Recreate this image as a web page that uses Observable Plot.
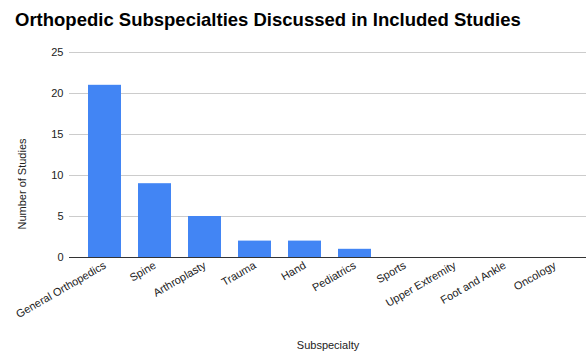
<!DOCTYPE html>
<html>
<head>
<meta charset="utf-8">
<script src="https://cdn.jsdelivr.net/npm/d3@7"></script>
<script src="https://cdn.jsdelivr.net/npm/@observablehq/plot@0.6"></script>
<style>
  html, body { margin: 0; padding: 0; background: #fff; }
  #wrap { position: relative; width: 586px; height: 354px; font-family: Arial, "Liberation Sans", sans-serif; }
  #title { position: absolute; left: 15px; top: 12px; font-size: 18.5px; line-height: 16px; font-weight: bold; color: #000; white-space: nowrap; z-index: 2; }
  #chart { position: absolute; left: 0; top: 0; }
</style>
</head>
<body>
<div id="wrap">
  <div id="title">Orthopedic Subspecialties Discussed in Included Studies</div>
  <div id="chart"></div>
</div>
<script>
const categories = ["General Orthopedics", "Spine", "Arthroplasty", "Trauma", "Hand", "Pediatrics", "Sports", "Upper Extremity", "Foot and Ankle", "Oncology"];
const studies = [21, 9, 5, 2, 2, 1, 0, 0, 0, 0];
const yTicks = [0, 5, 10, 15, 20, 25];
const yLabel = "Number of Studies";
const xLabel = "Subspecialty";

const data = categories.map((c, i) => ({category: c, value: studies[i]}));

const chart = Plot.plot({
  width: 586,
  height: 354,
  marginLeft: 69,
  marginRight: 0,
  marginTop: 52,
  marginBottom: 97,
  style: {fontFamily: "Arial, 'Liberation Sans', sans-serif", fontSize: "11px", color: "#222", background: "transparent"},
  x: {domain: categories, paddingInner: 0.348, paddingOuter: 0.344, align: 0.544, label: null},
  y: {domain: [0, 25], label: null},
  marks: [
    Plot.gridY(yTicks, {stroke: "#cccccc", strokeOpacity: 1}),
    Plot.barY(data, {x: "category", y: "value", fill: "#4285F4"}),
    Plot.ruleY([0], {stroke: "#333333", strokeWidth: 1}),
    Plot.axisY(yTicks, {tickSize: 0, tickPadding: 6, fontSize: 11, fill: "#222", label: null}),
    Plot.axisX({tickSize: 0, tickRotate: -30, tickPadding: 7, fontSize: 11, fill: "#222", label: null}),
    Plot.text([yLabel], {frameAnchor: "left", textAnchor: "middle", dx: -47, dy: 29, rotate: -90, fontSize: 11, fill: "#222"}),
    Plot.text([xLabel], {frameAnchor: "bottom", dy: 91, fontSize: 11, fill: "#222"})
  ]
});
document.getElementById("chart").appendChild(chart);
</script>
</body>
</html>
